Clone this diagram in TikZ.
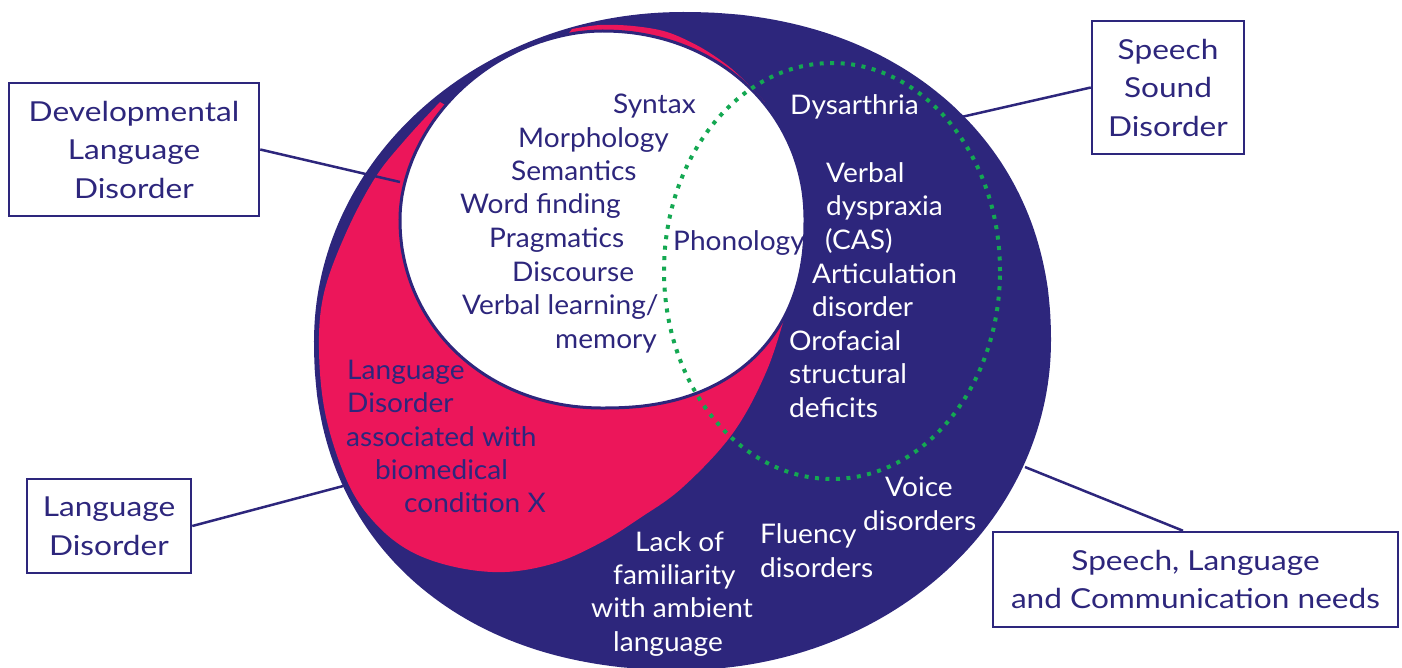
\documentclass[tikz,border=0pt]{standalone}
\usepackage{fontspec}
\setmainfont{Lato}
\newfontfamily\innerfont{Lato}[FakeStretch=1.04]
\newfontfamily\boxfont{Lato}[FakeStretch=1.15]
\definecolor{navy}{RGB}{45,38,124}
\definecolor{pinkc}{RGB}{236,22,90}
\definecolor{greenc}{RGB}{20,168,82}
\begin{document}
\begin{tikzpicture}[x=1pt,y=-1pt,
  font=\innerfont\fontsize{27}{33.6}\selectfont,
  lbl/.style={inner sep=0pt, anchor=base west, text=navy},
  wlbl/.style={inner sep=0pt, anchor=base west, text=white},
  boxn/.style={draw=navy, line width=2.5pt, text=navy, align=center, inner sep=0pt,
    font=\boxfont\fontsize{27.5}{38.5}\selectfont},
  conn/.style={draw=navy, line width=2.5pt},
  greendots/.style={draw=greenc, line width=4pt, dash pattern=on 4pt off 6.5pt},
  quad/.style={domain=0.01:89.99, samples=70}]
\useasboundingbox (0,0) rectangle (1402,667);
\begin{scope}
\clip (0,0) rectangle (1402,667);
% navy outer shape
\fill[navy]
  plot[quad] ({682.5+368.5*pow(cos(\x),0.9302)}, {341-329*pow(sin(\x),0.9302)})
  -- plot[quad] ({682.5-368.5*sin(\x)}, {341-329*cos(\x)})
  -- plot[quad] ({682.5-368.5*pow(cos(\x),0.90909)}, {341+329*pow(sin(\x),0.90909)})
  -- plot[quad] ({682.5+368.5*sin(\x)}, {341+329*cos(\x)})
  -- cycle;
% pink crescent
\fill[pinkc] plot[smooth, tension=0.6] coordinates {
 (788,305) (767,370) (733,433) (683,487) (640,518) (600,543) (555,563)
 (505,572) (455,567) (410,551) (375,523) (348,483) (326,417) (319,350)
 (324,293) (346,233) (375,178) (405,140) (440,102)}
 -- (520,150) -- (560,45)
 -- plot[smooth, tension=0.55] coordinates {
 (572,29) (600,25) (633,26) (667,32) (700,47) (727,65) (747,83) (765,102)}
 -- (700,250) -- cycle;
% white circle
\filldraw[fill=white, draw=navy, line width=3pt]
  plot[quad] ({602.5+202.5*pow(cos(\x),0.9756)}, {219.5-188.5*pow(sin(\x),0.9756)})
  -- plot[quad] ({602.5-202.5*pow(sin(\x),1.0526)}, {219.5-188.5*pow(cos(\x),1.0526)})
  -- plot[quad] ({602.5-202.5*pow(cos(\x),0.9756)}, {219.5+188.5*pow(sin(\x),0.9756)})
  -- plot[quad] ({602.5+202.5*pow(sin(\x),0.8696)}, {219.5+188.5*pow(cos(\x),0.8696)})
  -- cycle;
% green dotted ellipse
\draw[greendots] (832,271) ellipse [x radius=168pt, y radius=208pt];
\end{scope}

% boxes
\node[boxn, minimum width=250pt, minimum height=133pt] (dld) at (134,149.5) {Developmental\\Language\\Disorder};
\node[boxn, minimum width=152pt, minimum height=133pt] (ssd) at (1168,87.5) {Speech\\Sound\\Disorder};
\node[boxn, minimum width=164pt, minimum height=94pt] (ld) at (109,526) {Language\\Disorder};
\node[boxn, minimum width=405pt, minimum height=95pt] (slc) at (1195.5,579.5) {Speech, Language\\and Communication needs};

% connector end points
\coordinate (dldend) at (400,182);
\coordinate (ssdend) at (957,118);
\coordinate (ldend) at (347,485);
\coordinate (slcend) at (1025,467);

\draw[conn] (dld.east) -- (dldend);
\draw[conn] (ssd.west) -- (ssdend);
\draw[conn] (ld.east) -- (ldend);
\draw[conn] (slcend) -- ([xshift=-12.5pt]slc.north);

% language domains (white area)
\node[lbl] (syn) at (613,113) {Syntax};
\node[lbl] (mor) at (518,147) {Morphology};
\node[lbl] (sem) at (511,180) {Semantics};
\node[lbl] (wf) at (460,213) {Word finding};
\node[lbl] (pra) at (489,247) {Pragmatics};
\node[lbl] (dis) at (512,281) {Discourse};
\node[lbl] (vl) at (462,314) {Verbal learning/};
\node[lbl] (mem) at (555,348) {memory};
\node[lbl] (pho) at (673,250) {Phonology};

% pink area
\node[lbl] (p1) at (347,379) {Language};
\node[lbl] (p2) at (347,412) {Disorder};
\node[lbl] (p3) at (346,446) {associated with};
\node[lbl] (p4) at (375,479) {biomedical};
\node[lbl] (p5) at (404,512) {condition X};

% navy area
\node[wlbl] (dys) at (790,114) {Dysarthria};
\node[wlbl] (vd1) at (826,182) {Verbal};
\node[wlbl] (vd2) at (826,215) {dyspraxia};
\node[wlbl] (vd3) at (825,249) {(CAS)};
\node[wlbl] (ar1) at (812,283) {Articulation};
\node[wlbl] (ar2) at (812,316) {disorder};
\node[wlbl] (or1) at (789,350) {Orofacial};
\node[wlbl] (or2) at (789,383) {structural};
\node[wlbl] (or3) at (789,417) {deficits};
\node[wlbl] (vo1) at (885,496) {Voice};
\node[wlbl] (vo2) at (863,530) {disorders};
\node[wlbl] (fl1) at (760,543) {Fluency};
\node[wlbl] (fl2) at (760,577) {disorders};
\node[wlbl] (la1) at (635,551) {Lack of};
\node[wlbl] (la2) at (613,584) {familiarity};
\node[wlbl] (la3) at (591,617) {with ambient};
\node[wlbl] (la4) at (613,651) {language};
\end{tikzpicture}
\end{document}
